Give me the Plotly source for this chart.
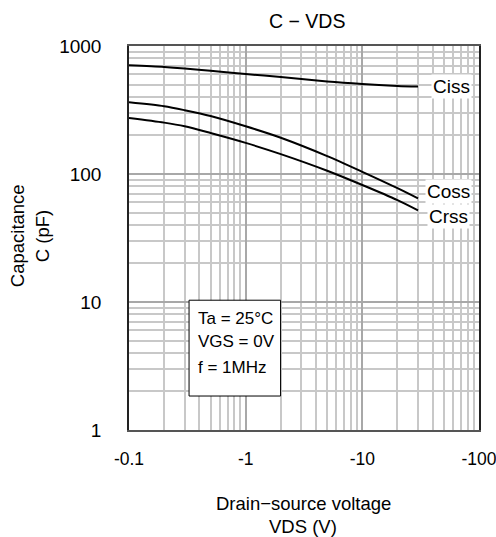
import plotly.graph_objects as go

vds = [0.1, 0.2, 0.3, 0.5, 1, 2, 5, 10, 20, 30]
ciss = [706, 686, 668, 640, 604, 572, 528, 505, 488, 482]
coss = [363, 338, 315, 284, 236, 192, 138, 104, 77.5, 64.5]
crss = [274, 252, 236, 209, 175, 143, 106, 82, 62.5, 52]

x_ticks = [0.1, 1, 10, 100]
x_ticktext = ["-0.1", "-1", "-10", "-100"]
y_ticks = [1, 10, 100, 1000]
y_ticktext = ["1", "10", "100", "1000"]

FONT = "Liberation Sans, Arial, sans-serif"

fig = go.Figure()
for ys in (ciss, coss, crss):
    fig.add_trace(go.Scatter(x=vds, y=ys, mode="lines",
                             line=dict(color="black", width=2, shape="spline", smoothing=0.8),
                             showlegend=False, hoverinfo="skip"))

grid_minor = "#c8c8c8"
grid_major = "#a8a8a8"

fig.update_xaxes(type="log", range=[-1, 2], tickvals=x_ticks, ticktext=x_ticktext,
                 showgrid=True, gridcolor=grid_major, gridwidth=1.5,
                 minor=dict(dtick="D1", showgrid=True, gridcolor=grid_minor, gridwidth=1.5, ticks=""),
                 showline=True, linecolor="#555555", linewidth=2, mirror=True,
                 ticks="", ticklabelstandoff=12, ticklabeloverflow="allow", zeroline=False,
                 automargin=False,
                 tickfont=dict(size=17.5, color="black", family=FONT))
fig.update_yaxes(type="log", range=[0, 3], tickvals=y_ticks, ticktext=y_ticktext,
                 showgrid=True, gridcolor=grid_major, gridwidth=1.5,
                 minor=dict(dtick="D1", showgrid=True, gridcolor=grid_minor, gridwidth=1.5, ticks=""),
                 showline=True, linecolor="#222222", linewidth=1.5, mirror=True,
                 ticks="", ticklabelstandoff=22, ticklabeloverflow="allow", zeroline=False,
                 automargin=False,
                 tickfont=dict(size=19, color="black", family=FONT))

ann = []
def a(text, x, y, size=19, xanchor="center", **kw):
    d = dict(text=text, x=x, y=y, xref="paper", yref="paper", showarrow=False,
             xanchor=xanchor, yanchor="middle",
             font=dict(size=size, color="black", family=FONT))
    d.update(kw)
    ann.append(d)

a("C − VDS", 0.508, 1.064, size=19.5)
a("Drain−source voltage", 0.4985, -0.191, size=18.5)
a("VDS (V)", 0.4985, -0.252, size=18.5)
a("Capacitance", -0.3197, 0.505, size=18.5, textangle=-90)
a("C (pF)", -0.248, 0.505, size=18.5, textangle=-90)
a("Ciss", 0.921, 0.895, size=19, bgcolor="white", borderpad=1)
a("Coss", 0.913, 0.622, size=19, bgcolor="white", borderpad=1)
a("Crss", 0.914, 0.555, size=19, bgcolor="white", borderpad=1)
a("Ta = 25°C", 0.1907, 0.2907, size=17, xanchor="left")
a("VGS = 0V", 0.1907, 0.2298, size=17, xanchor="left")
a("f = 1MHz", 0.1907, 0.163, size=17, xanchor="left")

fig.update_layout(
    width=496, height=537,
    margin=dict(l=129, r=17, t=46, b=107, autoexpand=False),
    paper_bgcolor="white", plot_bgcolor="white",
    annotations=ann,
    shapes=[dict(type="rect", xref="paper", yref="paper", x0=0.1716, x1=0.433, y0=0.0885, y1=0.338,
                 fillcolor="white", line=dict(color="black", width=1), layer="above")],
    font=dict(family=FONT, color="black"),
)
fig.write_html("out.html")
